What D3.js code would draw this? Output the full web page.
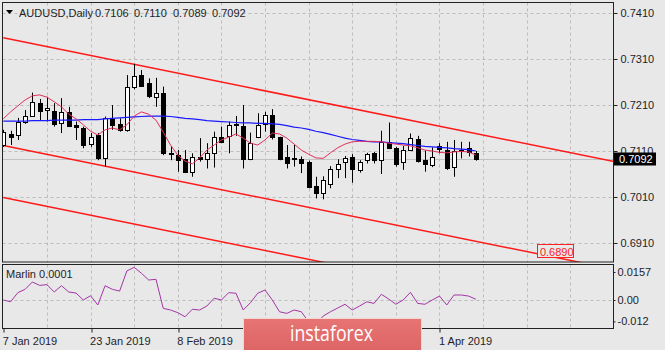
<!DOCTYPE html>
<html><head><meta charset="utf-8">
<script src="https://cdn.jsdelivr.net/npm/d3@7"></script>
<style>html,body{margin:0;padding:0;background:#e8e8e8;} svg{display:block;font-family:"Liberation Sans",Arial,sans-serif;}</style>
</head><body>
<svg id="c" width="665" height="350"></svg>
<script>
// ---------- DATA ----------
const symbol = "AUDUSD,Daily";
const titleValues = [0.7106, 0.7110, 0.7089, 0.7092];
const open = [0.7123,0.7147,0.7143,0.7175,0.7187,0.7214,0.7198,0.7198,0.7172,0.7194,
0.7166,0.7159,0.7125,0.7145,0.7095,0.7179,0.7169,0.7156,0.7248,0.7275,
0.7257,0.7228,0.7236,0.7106,0.7101,0.7092,0.7063,0.7096,0.7092,0.7106,
0.7141,0.7143,0.7168,0.7165,0.7092,0.7141,0.7168,0.7188,0.7140,0.7096,
0.7094,0.7093,0.7087,0.7034,0.7017,0.7038,0.7072,0.7085,0.7096,0.7067,
0.7090,0.7105,0.7090,0.7129,0.7116,0.7085,0.7112,0.7135,0.7090,0.7080,
0.7121,0.7112,0.7076,0.7112,0.7116,0.7106];
const high = [0.7156,0.7154,0.7182,0.7199,0.7237,0.7223,0.7228,0.7214,0.7225,0.7206,
0.7174,0.7163,0.7149,0.7149,0.7185,0.7210,0.7181,0.7275,0.7299,0.7286,
0.7268,0.7269,0.7250,0.7121,0.7112,0.7112,0.7105,0.7138,0.7127,0.7152,
0.7163,0.7174,0.7186,0.7210,0.7150,0.7192,0.7195,0.7201,0.7141,0.7123,
0.7123,0.7098,0.7089,0.7054,0.7055,0.7077,0.7092,0.7099,0.7103,0.7090,
0.7106,0.7108,0.7154,0.7172,0.7119,0.7121,0.7148,0.7143,0.7111,0.7118,
0.7127,0.7130,0.7134,0.7130,0.7130,0.7110];
const low = [0.7119,0.7123,0.7134,0.7169,0.7185,0.7177,0.7174,0.7163,0.7149,0.7162,
0.7134,0.7116,0.7119,0.7090,0.7076,0.7156,0.7152,0.7152,0.7244,0.7250,
0.7225,0.7206,0.7101,0.7090,0.7065,0.7062,0.7054,0.7087,0.7072,0.7074,
0.7127,0.7105,0.7143,0.7072,0.7090,0.7138,0.7152,0.7135,0.7090,0.7072,
0.7076,0.7062,0.7029,0.7007,0.7005,0.7029,0.7051,0.7051,0.7041,0.7063,
0.7083,0.7083,0.7060,0.7114,0.7076,0.7069,0.7110,0.7085,0.7065,0.7075,
0.7105,0.7069,0.7054,0.7094,0.7098,0.7089];
const close = [0.7152,0.7141,0.7172,0.7187,0.7217,0.7197,0.7203,0.7169,0.7195,0.7164,
0.7162,0.7123,0.7141,0.7094,0.7182,0.7167,0.7156,0.7250,0.7273,0.7251,
0.7228,0.7237,0.7106,0.7103,0.7090,0.7063,0.7096,0.7092,0.7105,0.7141,
0.7130,0.7167,0.7165,0.7094,0.7127,0.7167,0.7188,0.7141,0.7093,0.7082,
0.7092,0.7085,0.7032,0.7018,0.7046,0.7070,0.7082,0.7094,0.7069,0.7085,
0.7103,0.7090,0.7130,0.7116,0.7082,0.7112,0.7138,0.7087,0.7081,0.7098,
0.7114,0.7072,0.7111,0.7111,0.7108,0.7092];
const maFast = [0.7180,0.7195,0.7208,0.7221,0.7230,0.7232,0.7227,0.7217,0.7206,0.7190,
0.7180,0.7167,0.7153,0.7145,0.7156,0.7160,0.7156,0.7167,0.7186,0.7195,
0.7190,0.7177,0.7151,0.7123,0.7101,0.7088,0.7082,0.7095,0.7112,0.7123,
0.7134,0.7140,0.7147,0.7138,0.7127,0.7123,0.7134,0.7149,0.7147,0.7138,
0.7125,0.7112,0.7103,0.7095,0.7094,0.7106,0.7117,0.7125,0.7130,0.7131,
0.7131,0.7131,0.7130,0.7127,0.7125,0.7123,0.7121,0.7117,0.7112,0.7110,
0.7107,0.7106,0.7108,0.7109,0.7108,0.7101];
const maSlow = [0.7175,0.7175,0.7175,0.7175,0.7176,0.7176,0.7176,0.7177,0.7177,0.7177,
0.7177,0.7178,0.7178,0.7178,0.7180,0.7181,0.7182,0.7183,0.7184,0.7185,
0.7186,0.7186,0.7186,0.7185,0.7183,0.7181,0.7180,0.7178,0.7176,0.7175,
0.7174,0.7173,0.7172,0.7171,0.7171,0.7170,0.7170,0.7169,0.7168,0.7165,
0.7162,0.7160,0.7157,0.7153,0.7150,0.7146,0.7142,0.7138,0.7135,0.7133,
0.7131,0.7130,0.7130,0.7128,0.7127,0.7126,0.7124,0.7122,0.7120,0.7119,
0.7118,0.7117,0.7115,0.7114,0.7113,0.7110];
const marlin = [0.0000,-0.0010,0.0041,0.0060,0.0101,0.0082,0.0086,0.0045,0.0080,0.0045,
0.0039,0.0000,0.0024,-0.0028,0.0080,0.0060,0.0050,0.0163,0.0183,0.0150,
0.0112,0.0116,-0.0047,-0.0056,-0.0071,-0.0094,-0.0052,-0.0056,-0.0034,0.0010,
0.0000,0.0041,0.0038,-0.0056,-0.0015,0.0038,0.0056,0.0000,-0.0066,-0.0075,
-0.0056,-0.0066,-0.0123,-0.0135,-0.0090,-0.0066,-0.0045,-0.0024,-0.0056,-0.0034,
-0.0010,-0.0019,0.0032,0.0006,-0.0024,0.0000,0.0043,-0.0019,-0.0024,0.0000,
0.0022,-0.0028,0.0028,0.0028,0.0022,0.0004];
const channelUpper  = [[0, 0.7356], [84, 0.7087]];
const channelLower  = [[0, 0.7122], [84, 0.6853]];
const channelBottom = [[0, 0.7009], [84, 0.6740]];
const levelLabel = "0.6890";
const currentPrice = 0.7092;
const priceTicks = [0.6910, 0.7010, 0.7110, 0.7210, 0.7310, 0.7410];
const marlinTicks = [0.0157, 0, -0.012];
const marlinTickLabels = ["0.0157", "0.00", "-0.012"];
const dateTickBars = [0, 12, 24, 60];
const dateTickLabels = ["7 Jan 2019", "23 Jan 2019", "8 Feb 2019", "1 Apr 2019"];
const indicatorName = "Marlin 0.0001";

// ---------- LAYOUT ----------
const svg = d3.select('#c');
const L = 2.5, R = 613.5, T = 2.5, B = 262;
const IT = 264.5, IB = 328.5;
const x = d3.scaleLinear().domain([0, 84]).range([3.3, 3.3 + 7.27 * 84]);
const y = d3.scaleLinear().domain([0.6910, 0.7410]).range([243, 13]);
const yi = d3.scaleLinear().domain([-0.012, 0.0157]).range([321.4, 272]);
const px = i => Math.round(x(i)) + 0.5;
const gridCol = "#bcbcbc", txt = "#1e1e28";

svg.append("rect").attr("width", 665).attr("height", 350).attr("fill", "#e8e8e8");
const defs = svg.append("defs");
defs.append("clipPath").attr("id", "mainClip").append("rect").attr("x", L).attr("y", T).attr("width", R - L).attr("height", B - T);
defs.append("clipPath").attr("id", "indClip").append("rect").attr("x", L).attr("y", IT).attr("width", R - L).attr("height", IB - IT);
const grad = defs.append("linearGradient").attr("id", "wm").attr("x1", 0).attr("y1", 0).attr("x2", 0).attr("y2", 1);
grad.append("stop").attr("offset", "0").attr("stop-color", "#e87474");
grad.append("stop").attr("offset", "1").attr("stop-color", "#dc6464");

// grids
const gridBars = d3.range(6, 84, 6);
const main = svg.append("g").attr("clip-path", "url(#mainClip)");
main.selectAll(".hg").data(priceTicks).join("line")
  .attr("x1", L).attr("x2", R).attr("y1", d => Math.round(y(d)) + 0.5).attr("y2", d => Math.round(y(d)) + 0.5)
  .attr("stroke", gridCol).attr("stroke-dasharray", "3,3");
main.selectAll(".vg").data(gridBars).join("line")
  .attr("x1", px).attr("x2", px).attr("y1", T).attr("y2", B)
  .attr("stroke", gridCol).attr("stroke-dasharray", "3,3");
// current price line
main.append("line").attr("x1", L).attr("x2", R)
  .attr("y1", Math.round(y(currentPrice)) + 0.5).attr("y2", Math.round(y(currentPrice)) + 0.5)
  .attr("stroke", "#c2c2c2");
// channel lines
const chLine = d3.line().x(d => x(d[0])).y(d => y(d[1]));
[channelUpper, channelLower, channelBottom].forEach(c => {
  main.append("path").attr("d", chLine(c)).attr("fill", "none").attr("stroke", "#ff1a1a").attr("stroke-width", 1.5);
});
// candles
const bars = d3.range(open.length);
const cg = main.append("g");
cg.selectAll(".wick").data(bars).join("line")
  .attr("x1", px).attr("x2", px).attr("y1", i => y(high[i])).attr("y2", i => y(low[i]))
  .attr("stroke", "#000");
cg.selectAll(".body").data(bars).join("rect")
  .attr("x", i => px(i) - 2).attr("width", 4)
  .attr("y", i => Math.round(y(Math.max(open[i], close[i]))) + 0.5)
  .attr("height", i => Math.max(1, Math.round(Math.abs(y(open[i]) - y(close[i])))))
  .attr("fill", i => close[i] >= open[i] ? "#fff" : "#000").attr("stroke", "#000");
// moving averages
const maLine = d3.line().x((d, i) => x(i)).y(d => y(d));
main.append("path").attr("d", maLine(maSlow)).attr("fill", "none").attr("stroke", "#1a1aff").attr("stroke-width", 1.2);
main.append("path").attr("d", maLine(maFast)).attr("fill", "none").attr("stroke", "#e0305a").attr("stroke-width", 1);

// level label box
const lbx = x(73.4);
svg.append("rect").attr("x", Math.round(lbx) + 0.5).attr("y", 244.5).attr("width", 36).attr("height", 13)
  .attr("fill", "#e8e8e8").attr("stroke", "#ff2020");
svg.append("text").attr("x", lbx + 3).attr("y", 255.5).attr("font-size", 11).attr("fill", "#ff2020").text(levelLabel);

// indicator
const ind = svg.append("g").attr("clip-path", "url(#indClip)");
ind.selectAll(".vg").data(gridBars).join("line")
  .attr("x1", px).attr("x2", px).attr("y1", IT).attr("y2", IB)
  .attr("stroke", gridCol).attr("stroke-dasharray", "3,3");
ind.append("line").attr("x1", L).attr("x2", R).attr("y1", Math.round(yi(0)) + 0.5).attr("y2", Math.round(yi(0)) + 0.5)
  .attr("stroke", gridCol).attr("stroke-dasharray", "3,3");
ind.append("path").attr("d", d3.line().x((d, i) => x(i)).y(d => yi(d))(marlin))
  .attr("fill", "none").attr("stroke", "#a236a6").attr("stroke-width", 1);

// borders
svg.append("rect").attr("x", L).attr("y", T).attr("width", R - L).attr("height", B - T).attr("fill", "none").attr("stroke", "#222");
svg.append("rect").attr("x", L).attr("y", IT).attr("width", R - L).attr("height", IB - IT).attr("fill", "none").attr("stroke", "#222");

// right price axis
const ay = svg.append("g").attr("transform", `translate(${R},0)`)
  .call(d3.axisRight(y).tickValues(priceTicks).tickFormat(d3.format(".4f")).tickSize(4).tickPadding(3));
ay.select(".domain").remove();
ay.selectAll("line").attr("stroke", "#222");
ay.selectAll("text").attr("font-size", 11).attr("fill", txt).attr("font-family", "Liberation Sans, Arial, sans-serif");
// indicator axis
const ai = svg.append("g").attr("transform", `translate(${R},0)`)
  .call(d3.axisRight(yi).tickValues(marlinTicks).tickFormat((d, i) => marlinTickLabels[i]).tickSize(2).tickPadding(2));
ai.select(".domain").remove();
ai.selectAll("line").attr("stroke", "#222");
ai.selectAll("text").attr("font-size", 11).attr("fill", txt).attr("font-family", "Liberation Sans, Arial, sans-serif");

// current price tag
const cpY = y(currentPrice);
svg.append("rect").attr("x", 614).attr("y", Math.round(cpY) - 6.5).attr("width", 42).attr("height", 13).attr("fill", "#000");
svg.append("text").attr("x", 619).attr("y", Math.round(cpY) + 4).attr("font-size", 11).attr("fill", "#fff").text(d3.format(".4f")(currentPrice));

// x axis
const ax = svg.append("g").attr("transform", `translate(0,${IB})`)
  .call(d3.axisBottom(x).tickValues(dateTickBars).tickFormat((d, i) => dateTickLabels[i]).tickSize(4).tickPadding(3));
ax.select(".domain").remove();
ax.selectAll("line").attr("stroke", "#222").attr("transform", d => `translate(${px(d) - x(d)},0)`);
ax.selectAll("text").attr("text-anchor", "start").attr("font-size", 11).attr("fill", txt)
  .attr("font-family", "Liberation Sans, Arial, sans-serif").attr("dx", -1).attr("dy", "0.9em");

// indicator name
svg.append("text").attr("x", 6).attr("y", 278).attr("font-size", 11).attr("fill", txt).text(indicatorName);

// title
svg.append("path").attr("d", "M6,10 L13,10 L9.5,14 Z").attr("fill", "#000");
svg.append("text").attr("x", 19).attr("y", 17).attr("font-size", 11).attr("fill", txt).text(symbol);
svg.selectAll(".tv").data(titleValues).join("text")
  .attr("x", (d, i) => 95 + 39 * i).attr("y", 17).attr("font-size", 11).attr("fill", txt)
  .text(d => d3.format(".4f")(d));

// watermark
svg.append("rect").attr("x", 243.5).attr("y", 318.5).attr("width", 178).attr("height", 33)
  .attr("fill", "url(#wm)").attr("stroke", "#f2d6d6");
svg.append("text").attr("x", 290).attr("y", 341).attr("font-size", 21).attr("fill", "#fff")
  .attr("font-family", "Open Sans, sans-serif").attr("textLength", 83).attr("lengthAdjust", "spacingAndGlyphs").text("instaforex");
</script>
</body></html>
